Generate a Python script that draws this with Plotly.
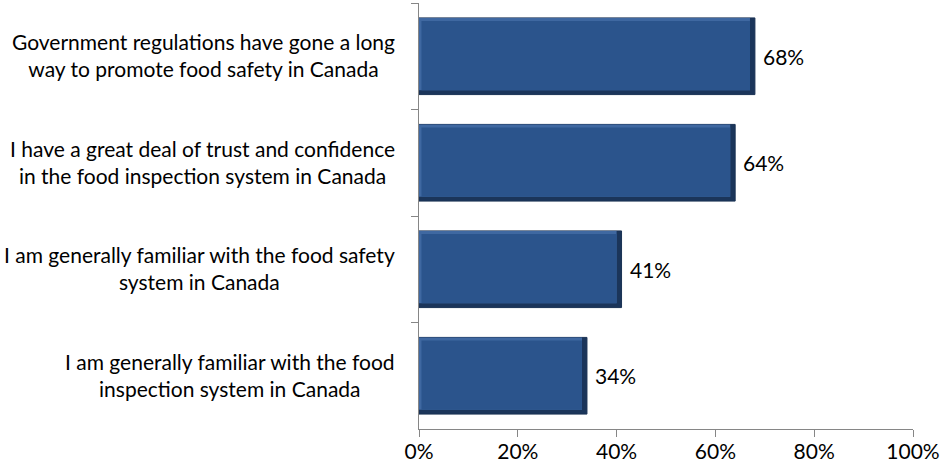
import plotly.graph_objects as go

# Survey statements (top to bottom) and share agreeing, in percent
categories = [
    "Government regulations have gone a long<br>way to promote food safety in Canada",
    "I have a great deal of trust and confidence<br>in the food inspection system in Canada",
    "I am generally familiar with the food safety<br>system in Canada",
    "I am generally familiar with the food<br>inspection system in Canada",
]
values = [68, 64, 41, 34]
x_ticks = [0, 20, 40, 60, 80, 100]
x_tick_labels = ["0%", "20%", "40%", "60%", "80%", "100%"]

FONT = "Lato, 'Open Sans', sans-serif"
FONT_SIZE = 21
AXIS_COLOR = "#868686"

# Bevelled bar drawn as three stacked layers
BAR_W = 0.72          # bar thickness in category units
EDGE_DARK_X = 1.0     # dark right edge, in % units
EDGE_LIGHT_X = 0.5    # light left edge, in % units
EDGE_DARK_Y = 0.04    # dark bottom edge, in category units
EDGE_LIGHT_Y = 0.03   # light top edge, in category units

fig = go.Figure()

# outer dark shell
fig.add_trace(go.Bar(
    y=categories, x=values, orientation="h",
    width=BAR_W, offset=-BAR_W / 2,
    marker=dict(color="#1b355a", line=dict(color="#1a3254", width=1)),
    hoverinfo="skip", showlegend=False,
))

# light bevel on top and left edges
fig.add_trace(go.Bar(
    y=categories, x=[v - EDGE_DARK_X for v in values], base=0, orientation="h",
    width=BAR_W - EDGE_DARK_Y, offset=-BAR_W / 2,
    marker=dict(color="#3f68a1", line=dict(width=0)),
    hoverinfo="skip", showlegend=False,
))

# main face of the bar
fig.add_trace(go.Bar(
    y=categories, x=[v - EDGE_DARK_X - EDGE_LIGHT_X for v in values],
    base=EDGE_LIGHT_X, orientation="h",
    width=BAR_W - EDGE_DARK_Y - EDGE_LIGHT_Y, offset=-BAR_W / 2 + EDGE_LIGHT_Y,
    marker=dict(color="#2b548c", line=dict(width=0)),
    hoverinfo="skip", showlegend=False,
))

# value labels just past the bar ends
for cat, v in zip(categories, values):
    fig.add_annotation(
        x=v, xref="x", xshift=6, xanchor="left",
        y=cat, yref="y", yanchor="middle",
        text=f"{v}%", showarrow=False,
        font=dict(family=FONT, size=FONT_SIZE, color="#000000"),
    )

# statement labels, each block centred and right-aligned to the axis
for cat in categories:
    fig.add_annotation(
        x=0, xref="paper", xshift=-22, xanchor="right",
        y=cat, yref="y", yanchor="middle", yshift=1,
        text=cat, align="center", showarrow=False,
        font=dict(family=FONT, size=FONT_SIZE, color="#000000"),
    )

fig.update_layout(
    width=943, height=472,
    margin=dict(l=419, r=28, t=3, b=43),
    barmode="overlay",
    plot_bgcolor="white", paper_bgcolor="white",
    font=dict(family=FONT, size=FONT_SIZE, color="#000000"),
)
fig.update_xaxes(
    range=[0, 100], tickvals=x_ticks, ticktext=x_tick_labels,
    showgrid=False, zeroline=False,
    showline=True, linecolor=AXIS_COLOR, linewidth=1,
    ticks="outside", ticklen=7, tickcolor=AXIS_COLOR, ticklabelstandoff=-3,
    tickfont=dict(family=FONT, size=FONT_SIZE, color="#000000"),
)
fig.update_yaxes(
    autorange="reversed", showticklabels=False,
    showgrid=False, zeroline=False,
    showline=True, linecolor=AXIS_COLOR, linewidth=1,
    ticks="outside", ticklen=7, tickcolor=AXIS_COLOR, tickson="boundaries",
)

fig.write_html("out.html")
